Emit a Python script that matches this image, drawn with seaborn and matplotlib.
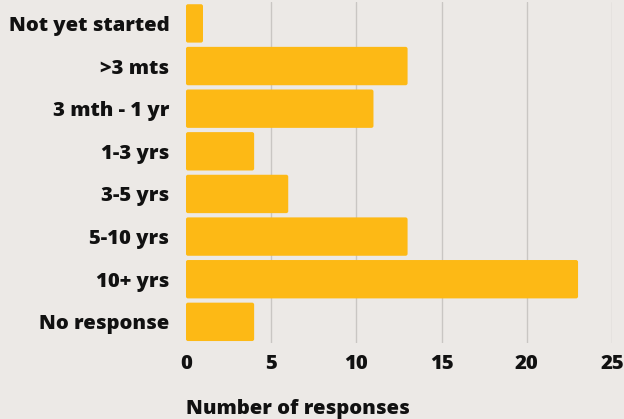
import matplotlib
matplotlib.use("Agg")
import matplotlib.pyplot as plt
from matplotlib.patches import FancyBboxPatch
import seaborn as sns
import pandas as pd

categories = ["Not yet started", ">3 mts", "3 mth - 1 yr", "1-3 yrs",
              "3-5 yrs", "5-10 yrs", "10+ yrs", "No response"]
responses = [1, 13, 11, 4, 6, 13, 23, 4]
x_ticks = [0, 5, 10, 15, 20, 25]

BG = "#ece9e6"
BAR = "#fdb915"
GRID = "#c9c6c3"
TXT = "#111111"
FS = 14.6
FW = 800

sns.set_theme(style="white")
plt.rcParams["font.family"] = ["Open Sans", "DejaVu Sans"]

df = pd.DataFrame({"category": categories, "responses": responses})

fig = plt.figure(figsize=(6.24, 4.19), dpi=100, facecolor=BG)
ax = fig.add_axes([0.298, 0.181, 0.683, 0.814], facecolor=BG)

sns.barplot(data=df, y="category", x="responses", orient="h",
            color=BAR, saturation=1, width=0.9, ax=ax, zorder=2)

# swap plain rectangles for slightly rounded ones
for p in list(ax.patches):
    x, y = p.get_x(), p.get_y()
    w, h = p.get_width(), p.get_height()
    rounded = FancyBboxPatch((x, y), w, h,
                             boxstyle="round,pad=0,rounding_size=0.12",
                             mutation_aspect=0.4, facecolor=BAR,
                             edgecolor="none", zorder=2)
    p.remove()
    ax.add_patch(rounded)

ax.set_xlim(0, 25)
ax.set_ylim(len(categories) - 0.5, -0.5)
ax.set_xticks(x_ticks)
ax.set_xticklabels([str(t) for t in x_ticks], fontsize=FS, fontweight=FW,
                   color=TXT)
ax.set_yticklabels(categories, fontsize=FS, fontweight=FW, color=TXT)
ax.tick_params(axis="both", length=0)
ax.tick_params(axis="x", pad=8)
ax.tick_params(axis="y", pad=12)

for t in x_ticks[1:]:
    ax.axvline(t, color=GRID, linewidth=1, zorder=1)

for s in ax.spines.values():
    s.set_visible(False)

ax.set_ylabel("")
ax.set_xlabel("Number of responses", fontsize=FS, fontweight=FW, color=TXT)
ax.xaxis.set_label_coords(0.262, -0.165)

fig.savefig("out.png", dpi=100, facecolor=BG)
